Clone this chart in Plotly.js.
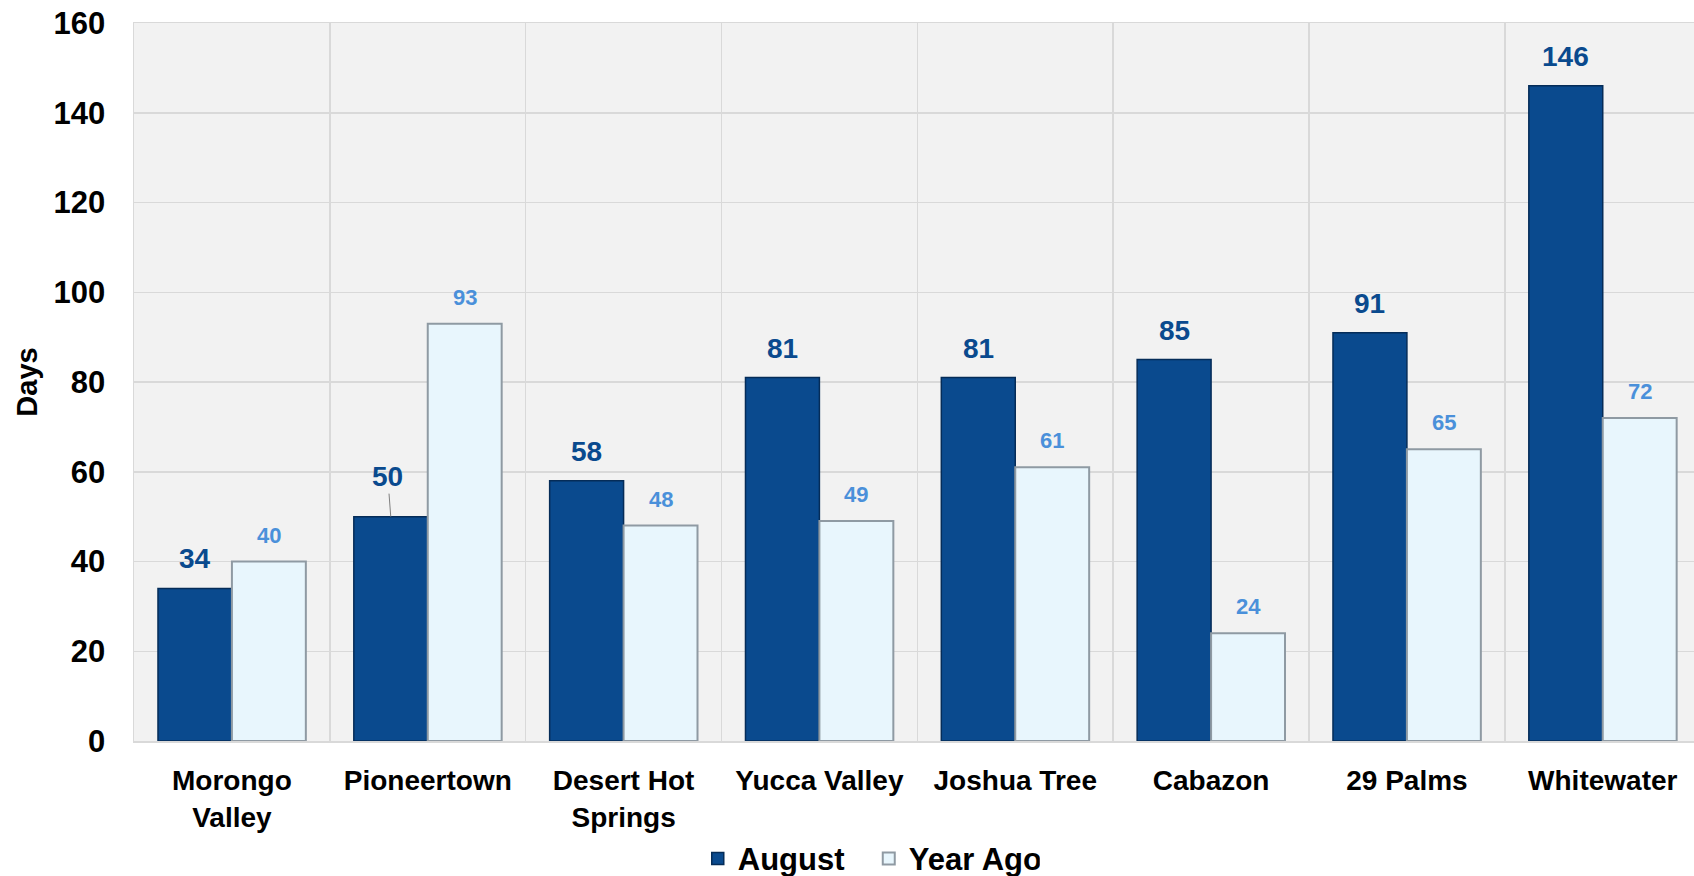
<!DOCTYPE html>
<html>
<head>
<meta charset="utf-8">
<script src="https://cdn.plot.ly/plotly-3.0.1.min.js"></script>
<style>html,body{margin:0;padding:0;background:#fff;}#chart{width:1694px;height:876px;}</style>
</head>
<body>
<div id="chart"></div>
<script>
const categories = ["Morongo<br>Valley", "Pioneertown", "Desert Hot<br>Springs", "Yucca Valley", "Joshua Tree", "Cabazon", "29 Palms", "Whitewater"];
const august = [34, 50, 58, 81, 81, 85, 91, 146];
const yearAgo = [40, 93, 48, 49, 61, 24, 65, 72];
const yTicks = [0, 20, 40, 60, 80, 100, 120, 140, 160];

const FONT = "Liberation Sans, Arial, sans-serif";
const DARK = "#0A4A8E";
const LIGHT_LABEL = "#4A90DA";

const traces = [
  {
    type: "bar", name: "August", x: categories, y: august,
    marker: {color: "#0A4A8E", line: {color: "#052c58", width: 1.5}},
    hoverinfo: "none"
  },
  {
    type: "bar", name: "Year Ago", x: categories, y: yearAgo,
    marker: {color: "#E8F6FD", line: {color: "#8f9aa3", width: 2}},
    hoverinfo: "none"
  }
];

const annotations = [];
august.forEach((v, i) => {
  const lifted = (i === 1);
  annotations.push({
    xref: "x", yref: "y", x: i, y: v, text: "<b>" + v + "</b>",
    xshift: -37,
    showarrow: lifted, arrowhead: 0, arrowwidth: 1, arrowcolor: "#7f7f7f",
    ax: lifted ? -3 : 0, ay: lifted ? -40 : 0, standoff: 0,
    yanchor: lifted ? "middle" : "bottom", yshift: lifted ? 0 : 12,
    font: {family: FONT, size: 28, color: DARK}
  });
});
yearAgo.forEach((v, i) => {
  annotations.push({
    xref: "x", yref: "y", x: i, y: v, text: "<b>" + v + "</b>",
    xshift: 37, showarrow: false, yanchor: "bottom", yshift: 12,
    font: {family: FONT, size: 22, color: LIGHT_LABEL}
  });
});

const layout = {
  width: 1694, height: 876,
  margin: {l: 134, r: 0, t: 23, b: 135, autoexpand: false},
  paper_bgcolor: "#ffffff", plot_bgcolor: "#F2F2F2",
  barmode: "group", bargap: 0.245, bargroupgap: 0,
  font: {family: FONT, color: "#000"},
  xaxis: {
    type: "category", range: [-0.5, 7.466], tickson: "boundaries",
    showgrid: true, gridcolor: "#D9D9D9", gridwidth: 1.5,
    showline: true, linecolor: "#D9D9D9", linewidth: 1.5, mirror: true,
    ticks: "", ticklabelstandoff: 14,
    tickfont: {family: FONT, size: 28, color: "#000", weight: "bold"}
  },
  yaxis: {
    range: [0, 160], tickvals: yTicks, ticktext: yTicks.map(String),
    showgrid: true, gridcolor: "#D9D9D9", gridwidth: 1.5, zeroline: false,
    showline: true, linecolor: "#D9D9D9", linewidth: 1.5, mirror: true,
    ticks: "", ticklabelstandoff: 21,
    tickfont: {family: FONT, size: 31, color: "#000", weight: "bold"},
    title: {text: "<b>Days</b>", font: {family: FONT, size: 29, color: "#000"}, standoff: 7}
  },
  showlegend: true,
  legend: {
    orientation: "h", x: 0.471, xanchor: "center", y: -0.164, yanchor: "middle",
    font: {family: FONT, size: 31, color: "#000", weight: "bold"},
    itemwidth: 30, entrywidth: 126, tracegroupgap: 0, bgcolor: "rgba(0,0,0,0)",
    borderwidth: 0
  },
  annotations: annotations
};

Plotly.newPlot("chart", traces, layout, {displayModeBar: false, staticPlot: true});
</script>
</body>
</html>
